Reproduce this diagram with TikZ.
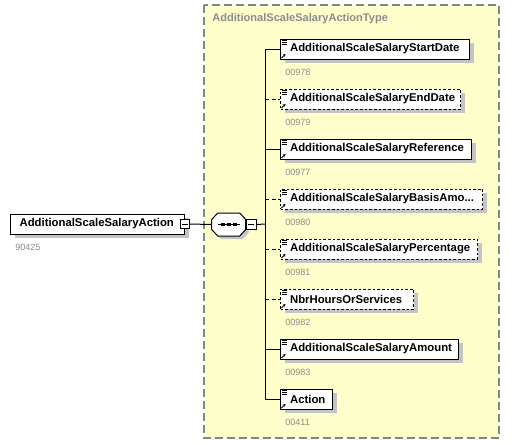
\documentclass[tikz,border=0pt]{standalone}
\usepackage{fontspec}
\setmainfont{Liberation Sans}
\usetikzlibrary{shadows,calc,arrows.meta}
\definecolor{typebg}{HTML}{FFFFCC}
\definecolor{shadowgray}{HTML}{C4C4C4}
\definecolor{labelgray}{HTML}{8C8C8C}
\definecolor{framegray}{HTML}{858585}
\begin{document}
\begin{tikzpicture}[x=0.75pt,y=-0.75pt,
  typebox/.style={draw=framegray, fill=typebg, line width=0.9pt, dash pattern=on 6pt off 3pt},
  typetitle/.style={anchor=west, text=labelgray, font=\bfseries\fontsize{8.3}{10}\selectfont, inner sep=0pt},
  elem/.style={draw=black, fill=white, anchor=west, minimum height=15pt, inner xsep=0pt, inner ysep=0pt,
     align=left, font=\bfseries\fontsize{8.5}{10}\selectfont, line width=0.75pt,
     general shadow={fill=shadowgray, shadow xshift=3pt, shadow yshift=-3pt}},
  optional/.style={dash pattern=on 2pt off 1.5pt},
  idlabel/.style={anchor=west, text=labelgray, font=\fontsize{6.8}{8}\selectfont, inner sep=0pt},
  conn/.style={draw=black, line width=0.75pt},
  optconn/.style={conn, dash pattern=on 3pt off 2pt},
  minusbox/.style={draw=black, fill=white, minimum size=7pt, inner sep=0pt, line width=0.6pt},
  iconline/.style={draw=black, line width=0.6pt}
]
\useasboundingbox (0,0) rectangle (516,444);

% type container
\draw[typebox] (204,5) rectangle (499,438);
\node[typetitle] (title) at (212,19) {AdditionalScaleSalaryActionType};

% main element
\node[elem, text width=130.5pt] (main) at (10,224) {\hspace*{6.8pt}AdditionalScaleSalaryAction};
\node[idlabel] (mainid) at (15,247) {90425};
\node[minusbox] (mainminus) at (main.east) {};
\draw[line width=0.6pt] ([xshift=-2.2pt]mainminus.center) -- ([xshift=2.2pt]mainminus.center);

% sequence compositor
\node[minimum width=25.5pt, minimum height=16.5pt, inner sep=0pt] (seq) at (229,224.5) {};
\fill[shadowgray] ($(seq.west)+(3,3)$) -- ++(0,-5) -- ++(6,-6.5) -- ++(22,0) -- ++(6,6.5) -- ++(0,10) -- ++(-6,6.5) -- ++(-22,0) -- ++(-6,-6.5) -- cycle;
\draw[line width=0.75pt, fill=white] (seq.west) -- ++(0,-5) -- ++(6,-6.5) -- ++(22,0) -- ++(6,6.5) -- ++(0,10) -- ++(-6,6.5) -- ++(-22,0) -- ++(-6,-6.5) -- cycle;
\draw[line width=0.7pt] ([xshift=-8.25pt]seq.center) -- ([xshift=8.25pt]seq.center);
\foreach \dx in {-4.5,0,4.5}
  \fill ([xshift=\dx pt]seq.center) +(-1.2pt,-1.2pt) rectangle +(1.2pt,1.2pt);
\node[minusbox, anchor=west] (seqminus) at (seq.east) {};
\draw[line width=0.6pt] ([xshift=-2.2pt]seqminus.center) -- ([xshift=2.2pt]seqminus.center);

\draw[conn] (mainminus.east) -- (seq.west);

% child elements
\node[elem, text width=141.75pt] (e1) at (280,49) {\hspace*{7.2pt}AdditionalScaleSalaryStartDate};
\node[idlabel] (i1) at (285,72) {00978};
\node[elem, optional, text width=135pt] (e2) at (280,99) {\hspace*{7.2pt}AdditionalScaleSalaryEndDate};
\node[idlabel] (i2) at (285,122) {00979};
\node[elem, text width=143.25pt] (e3) at (280,149) {\hspace*{7.2pt}AdditionalScaleSalaryReference};
\node[idlabel] (i3) at (285,172) {00977};
\node[elem, optional, text width=151.5pt] (e4) at (280,199) {\hspace*{7.2pt}AdditionalScaleSalaryBasisAmo...};
\node[idlabel] (i4) at (285,222) {00980};
\node[elem, optional, text width=147.75pt] (e5) at (280,249) {\hspace*{7.2pt}AdditionalScaleSalaryPercentage};
\node[idlabel] (i5) at (285,272) {00981};
\node[elem, optional, text width=99.75pt] (e6) at (280,299) {\hspace*{7.2pt}NbrHoursOrServices};
\node[idlabel] (i6) at (285,322) {00982};
\node[elem, text width=133.5pt] (e7) at (280,349) {\hspace*{7.2pt}AdditionalScaleSalaryAmount};
\node[idlabel] (i7) at (285,372) {00983};
\node[elem, text width=39pt] (e8) at (280,399) {\hspace*{7.2pt}Action};
\node[idlabel] (i8) at (285,422) {00411};

% icons
\foreach \n in {e1,e2,e3,e4,e5,e6,e7,e8}{
  \foreach \dy in {2,4,6}
    \draw[iconline] ($(\n.north west)+(2,\dy)$) -- ++(5,0);
  \draw[iconline, -{Stealth[length=2pt,width=2.2pt]}] ($(\n.south west)+(1.5,-1.5)$) -- ++(4,-4);
}

% connectors
\coordinate (spine) at (265,224);
\draw[conn] (seqminus.east) -- (spine);
\draw[conn] (e1.west -| spine) -- (e8.west -| spine);
\draw[conn] (e1.west -| spine) -- (e1.west);
\draw[optconn] (e2.west -| spine) -- (e2.west);
\draw[conn] (e3.west -| spine) -- (e3.west);
\draw[optconn] (e4.west -| spine) -- (e4.west);
\draw[optconn] (e5.west -| spine) -- (e5.west);
\draw[optconn] (e6.west -| spine) -- (e6.west);
\draw[conn] (e7.west -| spine) -- (e7.west);
\draw[conn] (e8.west -| spine) -- (e8.west);
\end{tikzpicture}
\end{document}
